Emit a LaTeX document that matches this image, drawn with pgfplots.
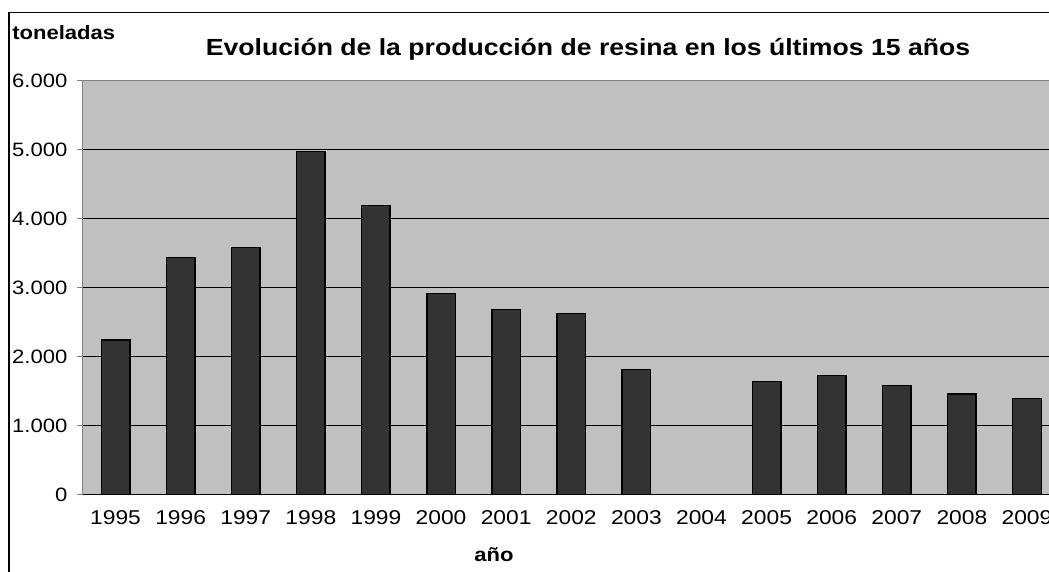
\documentclass[border=0pt]{standalone}
\usepackage{pgfplots}
\pgfplotsset{compat=1.18}
\usepackage{fontspec}
\setmainfont{Liberation Sans}[FakeStretch=1.14]
\definecolor{plotgray}{HTML}{C0C0C0}
\definecolor{bardark}{HTML}{333333}
\definecolor{bordergray}{HTML}{808080}
\newcommand\px[2]{(#1*0.75pt,-#2*0.75pt)}
\begin{document}
\begin{tikzpicture}
% chart area frame
\draw[black, line width=0.8pt] \px{9}{590} -- \px{9}{12.3} -- \px{1070}{12.3};
\begin{axis}[
  at={(62.25pt,-370.875pt)}, anchor=south west,
  width=732.4pt, height=310.5pt, scale only axis,
  xmin=-0.5, xmax=14.5, ymin=0, ymax=6000,
  axis background/.style={fill=plotgray},
  axis line style={bordergray, line width=0.75pt},
  ytick={0,1000,2000,3000,4000,5000,6000},
  yticklabels={0,1.000,2.000,3.000,4.000,5.000,6.000},
  xtick={0,...,14},
  xticklabels={1995,1996,1997,1998,1999,2000,2001,2002,2003,2004,2005,2006,2007,2008,2009},
  minor xtick={-0.5,0.5,...,14.5},
  xtick pos=bottom, ytick pos=left,
  tick align=outside,
  major tick length=4.5pt, minor tick length=4.5pt,
  xtick style={draw=none},
  minor x tick style={bordergray, line width=0.75pt},
  ytick style={bordergray, line width=0.75pt},
  ymajorgrids, major grid style={black, line width=0.75pt},
  tick label style={font=\fontsize{15}{17}\selectfont, text=black},
  y tick label style={font=\fontsize{14.5}{17}\selectfont, xshift=-3.75pt},
  x tick label style={inner sep=0pt, yshift=-7pt},
  ybar, bar width=0.438, bar shift=0pt,
]
\addplot[fill=bardark, draw=black, line width=1.1pt] coordinates {
  (0,2240) (1,3435) (2,3580) (3,4970) (4,4185) (5,2910) (6,2680) (7,2625)
  (8,1810) (10,1635) (11,1725) (12,1580) (13,1460) (14,1395)
};
\end{axis}
\draw[black, line width=0.75pt] \px{83}{494.5} -- \px{1070}{494.5};
\node[anchor=base west, inner sep=0pt, font=\bfseries\fontsize{14.5}{17}\selectfont] at \px{12}{39} {toneladas};
\node[anchor=base, inner sep=0pt, font=\bfseries\fontsize{17.5}{20}\selectfont] at \px{588}{55} {Evolución de la producción de resina en los últimos 15 años};
\node[anchor=base, inner sep=0pt, font=\bfseries\fontsize{14.5}{17}\selectfont] at \px{494}{561} {año};
\pgfresetboundingbox
\path[use as bounding box] \px{0}{0} rectangle \px{1049}{571};
\end{tikzpicture}
\end{document}
